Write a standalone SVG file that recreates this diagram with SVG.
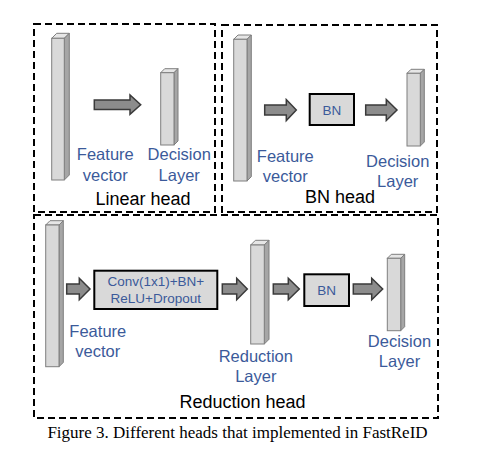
<svg xmlns="http://www.w3.org/2000/svg" width="501" height="469" viewBox="0 0 501 469">
<style>
.frame{fill:none;stroke:#000;stroke-width:2;stroke-dasharray:7 4}
.front{fill:#d9d9d9;stroke:#7f7f7f;stroke-width:1}
.top{fill:#e6e6e6;stroke:#7f7f7f;stroke-width:1}
.side{fill:#a6a6a6;stroke:#7f7f7f;stroke-width:1}
.arrow{fill:#8c8c8c;stroke:#3a3a3a;stroke-width:1.5;stroke-linejoin:miter}
.box{fill:#d9d9d9;stroke:#000;stroke-width:2}
.lbl{font-family:"Liberation Sans",Arial,sans-serif;font-size:16.5px;fill:#3b5a9a;text-anchor:middle}
.in{font-family:"Liberation Sans",Arial,sans-serif;font-size:13.5px;fill:#3b5a9a;text-anchor:middle}
.head{font-family:"Liberation Sans",Arial,sans-serif;font-size:18px;fill:#000;text-anchor:middle}
.cap{font-family:"Liberation Serif","Times New Roman",serif;font-size:17px;fill:#000;text-anchor:middle}
</style>
<rect width="501" height="469" fill="#fff"/>

<g id="linear-head">
<rect class="frame" x="34" y="24" width="181" height="188"/>
<g id="linear-feature">
<polygon class="top" points="51.7,38.3 56.7,33.3 69.3,33.3 64.3,38.3"/>
<polygon class="side" points="64.3,38.3 69.3,33.3 69.3,175 64.3,180"/>
<rect class="front" x="51.7" y="38.3" width="12.6" height="141.7"/>
</g>
<g id="linear-decision">
<polygon class="top" points="160.7,72.7 164.7,68.7 178,68.7 174,72.7"/>
<polygon class="side" points="174,72.7 178,68.7 178,141 174,145"/>
<rect class="front" x="160.7" y="72.7" width="13.3" height="72.3"/>
</g>
<text class="lbl" x="105.3" y="160">Feature</text>
<text class="lbl" x="105.3" y="180.7">vector</text>
<text class="lbl" x="179.2" y="160">Decision</text>
<text class="lbl" x="179.2" y="180.7">Layer</text>
<text class="head" x="143" y="205">Linear head</text>
</g>

<g id="bn-head">
<rect class="frame" x="222" y="25" width="215" height="187"/>
<g id="bn-feature">
<polygon class="top" points="233.7,39.3 238,35 251.3,35 247,39.3"/>
<polygon class="side" points="247,39.3 251.3,35 251.3,176.7 247,181"/>
<rect class="front" x="233.7" y="39.3" width="13.3" height="141.7"/>
</g>
<g id="bn-bn">
<rect class="box" x="309.7" y="94" width="44.3" height="31"/>
<text class="in" x="331.8" y="114.5">BN</text>
</g>
<g id="bn-decision">
<polygon class="top" points="407,73.3 411,69.3 424.3,69.3 420.3,73.3"/>
<polygon class="side" points="420.3,73.3 424.3,69.3 424.3,142 420.3,146"/>
<rect class="front" x="407" y="73.3" width="13.3" height="72.7"/>
</g>
<text class="lbl" x="285.3" y="161.7">Feature</text>
<text class="lbl" x="285.3" y="182.3">vector</text>
<text class="lbl" x="397.7" y="166.7">Decision</text>
<text class="lbl" x="397.7" y="186.7">Layer</text>
<text class="head" x="340" y="202.7">BN head</text>
</g>

<g id="reduction-head">
<rect class="frame" x="34" y="215" width="404" height="203"/>
<g id="red-feature">
<polygon class="top" points="45.7,225 50,220.7 63.3,220.7 59,225"/>
<polygon class="side" points="59,225 63.3,220.7 63.3,362.4 59,366.7"/>
<rect class="front" x="45.7" y="225" width="13.3" height="141.7"/>
</g>
<g id="red-conv">
<rect class="box" x="94.3" y="270.7" width="123" height="38.3"/>
<text class="in" x="155.8" y="286">Conv(1x1)+BN+</text>
<text class="in" x="155.8" y="302.7">ReLU+Dropout</text>
</g>
<g id="red-reduction">
<polygon class="top" points="250.7,245 255.4,240.3 269,240.3 264.3,245"/>
<polygon class="side" points="264.3,245 269,240.3 269,339.3 264.3,344"/>
<rect class="front" x="250.7" y="245" width="13.6" height="99"/>
</g>
<g id="red-bn">
<rect class="box" x="304.3" y="274.3" width="44.7" height="31.7"/>
<text class="in" x="326.7" y="294.8">BN</text>
</g>
<g id="red-decision">
<polygon class="top" points="387.3,258.3 391.3,254.3 404.7,254.3 400.7,258.3"/>
<polygon class="side" points="400.7,258.3 404.7,254.3 404.7,326.7 400.7,330.7"/>
<rect class="front" x="387.3" y="258.3" width="13.4" height="72.4"/>
</g>
<text class="lbl" x="97.8" y="336.7">Feature</text>
<text class="lbl" x="97.8" y="356.7">vector</text>
<text class="lbl" x="255.8" y="361.7">Reduction</text>
<text class="lbl" x="255.8" y="381.7">Layer</text>
<text class="lbl" x="399.5" y="346.7">Decision</text>
<text class="lbl" x="399.5" y="366.7">Layer</text>
<text class="head" x="242.5" y="408.3">Reduction head</text>
</g>

<g id="connectors">
<path class="arrow" d="M94.3,100 H130 V95 L140.7,104.7 L130,114.4 V109.4 H94.3 Z"/>
<path class="arrow" d="M264.7,105 H286.3 V99.5 L296.3,110 L286.3,120.5 V115 H264.7 Z"/>
<path class="arrow" d="M365.7,105 H386.3 V99.5 L397,110 L386.3,120.5 V115 H365.7 Z"/>
<path class="arrow" d="M66.7,284 H79.3 V278.3 L90,289 L79.3,299.7 V294 H66.7 Z"/>
<path class="arrow" d="M222.3,284 H236.7 V278.3 L247.3,289 L236.7,299.7 V294 H222.3 Z"/>
<path class="arrow" d="M273.3,284 H288.3 V278.3 L299.3,289 L288.3,299.7 V294 H273.3 Z"/>
<path class="arrow" d="M353.3,284 H371.7 V278.3 L382.7,289 L371.7,299.7 V294 H353.3 Z"/>
</g>

<text class="cap" x="237.5" y="437.5">Figure 3. Different heads that implemented in FastReID</text>
</svg>
